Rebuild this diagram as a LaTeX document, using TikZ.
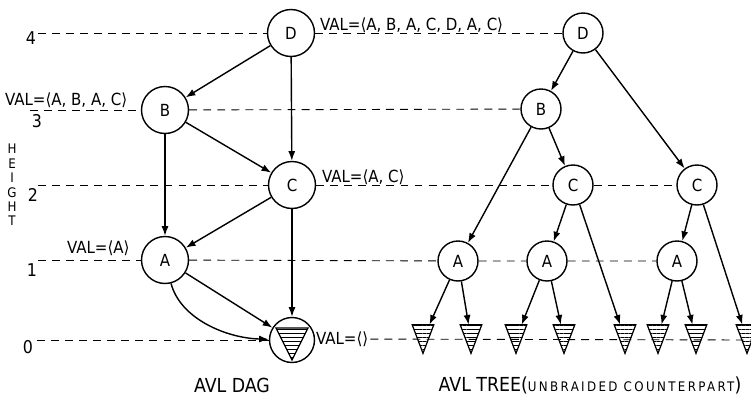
\documentclass[tikz,border=0pt]{standalone}
\usepackage{fontspec}
\setmainfont{DejaVu Sans Condensed}
\usetikzlibrary{arrows.meta,patterns.meta}

\begin{document}
\begin{tikzpicture}[x=0.02cm, y=-0.02cm, >={Latex[length=5.5pt,width=4pt]}, every node/.style={font=\fontsize{9.5}{11}\selectfont}]
    \tikzstyle{dagnode} = [circle, draw, line width=0.8pt, minimum size=0.94cm, inner sep=0pt]
    \tikzstyle{treenode} = [circle, draw, line width=0.8pt, minimum size=0.8cm, inner sep=0pt]
    \tikzstyle{leafbox} = [inner sep=0pt, minimum width=0.42cm, minimum height=0.56cm]
    \tikzstyle{stripes} = [line width=0.7pt, pattern={Lines[angle=0,distance=2.3pt,line width=0.6pt]}]
    \tikzstyle{heightline} = [line width=0.5pt, dash pattern=on 4.5pt off 3.5pt]
    \tikzstyle{link} = [->, line width=0.8pt]
    \tikzstyle{val} = [anchor=west, inner sep=1pt]
    \tikzstyle{hnum} = [font=\fontsize{10}{12}\selectfont, inner sep=0pt]
    \tikzstyle{title} = [font=\fontsize{11}{13}\selectfont]

    \useasboundingbox (0,0) rectangle (751,406);

    % height axis
    \node (heightLbl) [align=center, font=\fontsize{7.5}{8.2}\selectfont] at (12,185) {H\\E\\I\\G\\H\\T};
    \node (num4) [hnum] at (31,38) {4};
    \node (num3) [hnum] at (37,121) {3};
    \node (num2) [hnum] at (33,195) {2};
    \node (num1) [hnum] at (32,270) {1};
    \node (num0) [hnum] at (28,347) {0};
    \coordinate (h4) at (38,33);
    \coordinate (h3) at (30,110);
    \coordinate (h2) at (38,185);
    \coordinate (h1) at (38,260);
    \coordinate (h0) at (37,340);
    \coordinate (e0) at (751,340);

    % AVL DAG
    \node (dagD) [dagnode] at (291,33) {D};
    \node (dagB) [dagnode] at (165,110) {B};
    \node (dagC) [dagnode] at (292,185) {C};
    \node (dagA) [dagnode] at (165,260) {A};
    \node (dagLeaf) [dagnode, minimum size=0.9cm] at (292,340) {};
    \draw[stripes] ([shift={(-16,-12)}]dagLeaf.center) -- ([shift={(16,-12)}]dagLeaf.center) -- ([shift={(0,20)}]dagLeaf.center) -- cycle;

    \node (val4) [val] at (318,25) {VAL=⟨A, B, A, C, D, A, C⟩};
    \node (val3) [val] at (3,100) {VAL=⟨A, B, A, C⟩};
    \node (val2) [val] at (320,177) {VAL=⟨A, C⟩};
    \node (val1) [val] at (65,248) {VAL=⟨A⟩};
    \node (val0) [val] at (314,339) {VAL=⟨⟩};

    % AVL tree
    \node (treeD) [treenode] at (583,33) {D};
    \node (treeB) [treenode] at (541,109) {B};
    \node (treeC1) [treenode] at (573,185) {C};
    \node (treeC2) [treenode] at (697,185) {C};
    \node (treeA1) [treenode] at (458,261) {A};
    \node (treeA2) [treenode] at (547,261) {A};
    \node (treeA3) [treenode] at (677,261) {A};
    \foreach \n/\x in {1/423,2/471,3/516,4/564,5/625,6/658,7/696,8/747}{
        \node (leaf\n) [leafbox] at (\x,339) {};
        \draw[stripes] (leaf\n.north west) -- (leaf\n.north east) -- (leaf\n.south) -- cycle;
    }

    % height levels
    \draw[heightline] (h4) -- (dagD);
    \draw[heightline] (dagD) -- (treeD);
    \draw[heightline] (h3) -- (dagB);
    \draw[heightline] (dagB) -- (treeB);
    \draw[heightline] (h2) -- (dagC);
    \draw[heightline] (dagC) -- (treeC1) -- (treeC2);
    \draw[heightline] (h1) -- (dagA);
    \draw[heightline] (dagA) -- (treeA1) -- (treeA2) -- (treeA3);
    \draw[heightline] (h0) -- (dagLeaf);
    \draw[heightline] (val0) -- (e0);

    \draw[link] (dagD) -- (dagB);
    \draw[link] (dagD) -- (dagC);
    \draw[link] (dagB) -- (dagC);
    \draw[link] (dagB) -- (dagA);
    \draw[link] (dagC) -- (dagA);
    \draw[link] (dagC) -- (dagLeaf);
    \draw[link] (dagA) -- (dagLeaf);
    \draw[link] (dagA) .. controls (180,318) and (225,338) .. (dagLeaf);

    \foreach \a/\b in {treeD/treeB, treeD/treeC2, treeB/treeA1, treeB/treeC1, treeC1/treeA2, treeC1/leaf5,
        treeC2/treeA3, treeC2/leaf8, treeA1/leaf1, treeA1/leaf2, treeA2/leaf3, treeA2/leaf4, treeA3/leaf6, treeA3/leaf7}
        \draw[link] (\a) -- (\b);

    \node (dagTitle) [title] at (232,385) {AVL DAG};
    \node (treeTitle) [title] at (590,385) {AVL TREE({\fontsize{7.5}{9}\selectfont\addfontfeature{LetterSpace=18}UNBRAIDED COUNTERPART})};

\end{tikzpicture}
\end{document}
